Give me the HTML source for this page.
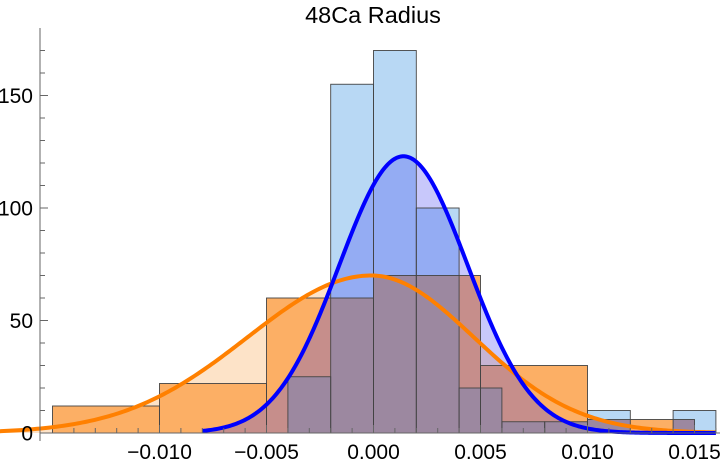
<!DOCTYPE html>
<html><head><meta charset="utf-8"><style>
body{margin:0;background:#fff;}
svg{display:block;font-family:"Liberation Sans",sans-serif;}
</style></head><body>
<svg id="chart" width="720" height="462">
<text x="373" y="23" text-anchor="middle" style="font-size:23.5px">48Ca Radius</text>
<g id="layer"></g>
</svg>
<script>
const blueBinStarts=[-0.004,-0.002,0,0.002,0.004,0.006,0.008,0.010,0.012,0.014];
const blueCounts=[25,155,170,100,20,5,5,10,0,10];
const blueBinWidth=0.002;
const orangeBinStarts=[-0.015,-0.010,-0.005,0,0.005,0.010];
const orangeCounts=[12,22,60,70,30,6];
const orangeBinWidth=0.005;
const blueFit=[123,0.0014,0.0030,0.0030]; // amp, mean, sigmaL, sigmaR
const orangeFit=[70,-0.0001,0.0058,0.0048];
const xTicks=[-0.010,-0.005,0,0.005,0.010,0.015];
const xTickLabels=["-0.010","-0.005","0.000","0.005","0.010","0.015"];
const yTicks=[0,50,100,150];

const X=v=>373.5+v*21400;
const Y=v=>433-v*2.25;
const ns="http://www.w3.org/2000/svg";
const g=document.getElementById('layer');
function mk(tag,attrs){const e=document.createElementNS(ns,tag);for(const k in attrs)e.setAttribute(k,attrs[k]);g.appendChild(e);return e;}
function fit(p,x){const s=x<p[1]?p[2]:p[3];return p[0]*Math.exp(-0.5*((x-p[1])/s)**2);}
function curvePts(p,a,b){const pts=[];for(let i=0;i<=300;i++){const x=a+(b-a)*i/300;pts.push([X(x),Y(fit(p,x))]);}return pts;}
const oPts=curvePts(orangeFit,-0.0175,0.0160);
const bPts=curvePts(blueFit,-0.008,0.0160);
let e=mk('path',{d:'M'+oPts.map(p=>p.join(',')).join('L')+`L${X(0.016)},${Y(0)}L${X(-0.0175)},${Y(0)}Z`,fill:'#fde3c8'});


orangeCounts.forEach((c,i)=>{const x0=X(orangeBinStarts[i]),x1=X(orangeBinStarts[i]+orangeBinWidth);
const r=mk('rect',{x:x0,y:Y(c),width:x1-x0,height:Y(0)-Y(c),fill:'#fcaf65'});

});
blueCounts.forEach((c,i)=>{if(!c)return;const x0=X(blueBinStarts[i]),x1=X(blueBinStarts[i]+blueBinWidth);
const r=mk('rect',{x:x0,y:Y(c),width:x1-x0,height:Y(0)-Y(c),fill:'#b8d8f4'});

});
e=mk('path',{d:'M'+bPts.map(p=>p.join(',')).join('L')+`L${X(0.016)},${Y(0)}L${X(-0.008)},${Y(0)}Z`,fill:'#3a3af0',opacity:'0.28'});


blueCounts.forEach((c,i)=>{const a=blueBinStarts[i],b=a+blueBinWidth;
orangeCounts.forEach((oc,j)=>{const oa=orangeBinStarts[j],ob=oa+orangeBinWidth;
const lo=Math.max(a,oa),hi=Math.min(b,ob),h=Math.min(c,oc);
if(hi-lo>1e-9&&h>0){const r=mk('rect',{x:X(lo),y:Y(h),width:X(hi)-X(lo),height:Y(0)-Y(h),fill:'#9c88a0'});

}});});
orangeCounts.forEach((c,i)=>{const x0=X(orangeBinStarts[i]),x1=X(orangeBinStarts[i]+orangeBinWidth);
const r=mk('rect',{x:x0,y:Y(c),width:x1-x0,height:Y(0)-Y(c),fill:'none',stroke:'#444','stroke-width':'0.9'});

});
blueCounts.forEach((c,i)=>{if(!c)return;const x0=X(blueBinStarts[i]),x1=X(blueBinStarts[i]+blueBinWidth);
const r=mk('rect',{x:x0,y:Y(c),width:x1-x0,height:Y(0)-Y(c),fill:'none',stroke:'#444','stroke-width':'0.9'});

});
e=mk('path',{d:'M'+oPts.map(p=>p.join(',')).join('L'),fill:'none',stroke:'#ff8000','stroke-width':'4'});


e=mk('path',{d:'M'+bPts.map(p=>p.join(',')).join('L'),fill:'none',stroke:'#0000ff','stroke-width':'4'});


e=mk('line',{x1:40,y1:28,x2:40,y2:Y(0)+8,stroke:'#666'});


e=mk('line',{x1:40,y1:Y(0),x2:720,y2:Y(0),stroke:'#666'});


for(let v=0;v<=170;v+=10){const big=v%50===0;mk('line',{x1:40,y1:Y(v),x2:40+(big?8:5),y2:Y(v),stroke:'#666'});}
yTicks.forEach(v=>{const t=mk('text',{x:33,y:Y(v)+7.5,'text-anchor':'end',style:'font-size:21px'});t.textContent=v;

});
for(let k=-14;k<=16;k++){const v=k*0.001;const big=k%5===0;mk('line',{x1:X(v),y1:Y(0),x2:X(v),y2:Y(0)-(big?8:5),stroke:'#666'});}
xTicks.forEach((v,i)=>{const t=mk('text',{x:X(v),y:459,'text-anchor':'middle',style:'font-size:21px'});t.textContent=xTickLabels[i].replace('-','\u2212');

});
</script>
</body></html>
